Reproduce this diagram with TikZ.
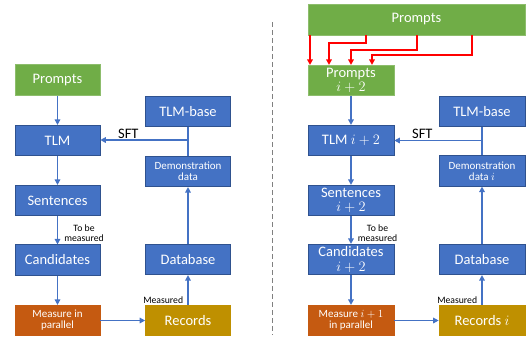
\documentclass[tikz,border=0pt]{standalone}
\usepackage{fontspec}
\setmainfont{Carlito}
\usetikzlibrary{arrows.meta}
\definecolor{bbox}{HTML}{4472C4}
\definecolor{bedge}{HTML}{2F528F}
\definecolor{gbox}{HTML}{70AD47}
\definecolor{obox}{HTML}{C55A11}
\definecolor{ybox}{HTML}{BF9000}
\definecolor{rline}{HTML}{FF0000}
\begin{document}
\begin{tikzpicture}[x=1pt,y=-1pt,
  box/.style={rectangle, draw=bedge, line width=0.6pt, fill=bbox, text=white, align=center,
    minimum width=85pt, minimum height=30.5pt, inner sep=1pt,
    font=\fontsize{14.5}{14.3}\selectfont},
  smallbox/.style={box, font=\fontsize{11}{11}\selectfont},
  gboxs/.style={box, fill=gbox, draw=gbox!80!white},
  oboxs/.style={smallbox, fill=obox, draw=obox},
  yboxs/.style={box, fill=ybox, draw=ybox},
  arr/.style={draw=bbox, line width=1.8pt, -{Triangle[length=5.5pt,width=5.5pt]}},
  ln/.style={draw=bbox, line width=1.8pt},
  rarr/.style={draw=rline, line width=1.8pt, -{Triangle[length=5.5pt,width=5.5pt]}},
  lab/.style={font=\fontsize{9.7}{10}\selectfont, align=center, inner sep=1pt},
  sft/.style={font=\fontsize{14.5}{14}\selectfont, inner sep=1pt}]
\useasboundingbox (0,0) rectangle (531,338);
% ---------- left panel ----------
\node[gboxs] (p) at (57.5,80) {Prompts};
\node[box] (tlm) at (57.5,140.5) {TLM};
\node[box] (sen) at (57.5,200.5) {Sentences};
\node[box] (can) at (57.5,260) {Candidates};
\node[oboxs] (mea) at (57.5,320.5) {Measure in\\parallel};
\node[box] (base) at (188,111.5) {TLM-base};
\node[smallbox] (demo) at (188,171.5) {Demonstration\\data};
\node[box] (db) at (188,259.5) {Database};
\node[yboxs] (rec) at (188,320.5) {Records};
\draw[arr] (p) -- (tlm);
\draw[arr] (tlm) -- (sen);
\draw[arr] (sen) -- node[lab, pos=0.6, anchor=west, xshift=5pt] {To be\\measured} (can);
\draw[arr] (can) -- (mea);
\draw[arr] (mea) -- (rec);
\draw[arr] (rec) -- node[lab, pos=0.15, anchor=east, xshift=-3pt] {Measured} (db);
\draw[arr] (db) -- (demo);
\draw[ln] (base) -- (demo);
\coordinate (j) at (188,140);
\draw[arr] (j) -- node[sft, pos=0.68, above] {SFT} (tlm.east |- j);
% ---------- divider ----------
\draw[gray, line width=0.8pt, dash pattern=on 5pt off 3pt] (272,22) -- (272,335);
% ---------- right panel ----------
\node[gboxs, minimum width=217pt, minimum height=31pt] (bp) at (416.5,19.5) {Prompts};
\node[gboxs, minimum width=86pt] (p2) at (351,80.5) {Prompts\\$i+2$};
\node[box, minimum width=86pt] (tlm2) at (351,140.5) {TLM $i+2$};
\node[box, minimum width=86pt] (sen2) at (351,200.5) {Sentences\\$i+2$};
\node[box, minimum width=86pt] (can2) at (351,259.5) {Candidates\\$i+2$};
\node[oboxs, minimum width=86pt] (mea2) at (351,320.5) {Measure $i+1$\\in parallel};
\node[box, minimum width=86pt] (base2) at (482,111.5) {TLM-base};
\node[smallbox, minimum width=86pt] (demo2) at (482,171) {Demonstration\\data $i$};
\node[box, minimum width=86pt] (db2) at (482,259.5) {Database};
\node[yboxs, minimum width=86pt] (rec2) at (482,320.5) {Records $i$};
\draw[rarr] (bp.south -| 310,0) -- (p2.north -| 310,0);
\draw[rarr] (bp.south -| 366,0) |- (329,43) -- (p2.north -| 329,0);
\draw[rarr] (bp.south -| 417,0) |- (351,50) -- (p2.north -| 351,0);
\draw[rarr] (bp.south -| 472,0) |- (372,55) -- (p2.north -| 372,0);
\draw[arr] (p2) -- (tlm2);
\draw[arr] (tlm2) -- (sen2);
\draw[arr] (sen2) -- node[lab, pos=0.6, anchor=west, xshift=5pt] {To be\\measured} (can2);
\draw[arr] (can2) -- (mea2);
\draw[arr] (mea2) -- (rec2);
\draw[arr] (rec2) -- node[lab, pos=0.15, anchor=east, xshift=-3pt] {Measured} (db2);
\draw[arr] (db2) -- (demo2);
\draw[ln] (base2) -- (demo2);
\coordinate (j2) at (482,140.5);
\draw[arr] (j2) -- node[sft, pos=0.68, above] {SFT} (tlm2.east |- j2);
\end{tikzpicture}
\end{document}
